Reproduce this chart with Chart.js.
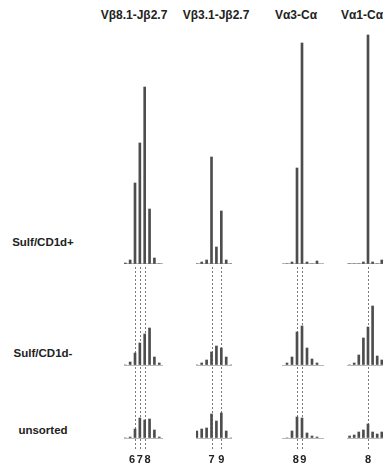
<!DOCTYPE html>
<html>
<head>
<meta charset="utf-8">
<script src="https://cdn.jsdelivr.net/npm/chart.js@4.4.1/dist/chart.umd.min.js"></script>
<style>
  body { margin: 0; background: #fff; }
  #fig { position: relative; width: 383px; height: 464px; overflow: hidden;
         font-family: "Liberation Sans", Arial, sans-serif; color: #222; }
  .lbl { position: absolute; font-weight: bold; white-space: nowrap; transform: translate(-50%, -50%); }
  .ttl { font-size: 12px; }
  .row { font-size: 11.5px; }
  canvas { position: absolute; top: 30px; }
</style>
</head>
<body>
<div id="fig"></div>
<script>
// column headers (primer pairs) and row names (sorted populations)
const columns = ["Vβ8.1-Jβ2.7", "Vβ3.1-Jβ2.7", "Vα3-Cα", "Vα1-Cα"];
const rows = ["Sulf/CD1d+", "Sulf/CD1d-", "unsorted"];

// CDR3 length (codons) and peak heights, one set per column
const col1Len = [4, 5, 6, 7, 8, 9, 10, 11];
const col1Pos = [1, 4, 81, 121, 177, 55, 6, 0];
const col1Neg = [0, 3, 12, 22, 31, 37, 8, 2];
const col1Uns = [0, 1, 9, 20, 18, 19, 8, 1];
const col1Marks = [6, 7, 8];

const col2Len = [4, 5, 6, 7, 8, 9, 10, 11];
const col2Pos = [0, 2, 4, 107, 17, 53, 4, 0];
const col2Neg = [0, 2, 5, 13, 19, 17, 8, 0];
const col2Uns = [7, 9, 10, 24, 17, 25, 7, 0];
const col2Marks = [7, 9];

const col3Len = [6, 7, 8, 9, 10, 11, 12];
const col3Pos = [0, 2, 96, 221, 2, 0, 3];
const col3Neg = [2, 8, 33, 39, 17, 6, 2];
const col3Uns = [0, 7, 21, 20, 5, 2, 1];
const col3Marks = [8, 9];

const col4Len = [4, 5, 6, 7, 8, 9, 10, 11];
const col4Pos = [0, 0, 0, 2, 229, 2, 0, 4];
const col4Neg = [0, 2, 10, 27, 38, 59, 9, 5];
const col4Uns = [2, 3, 6, 8, 14, 6, 4, 6];
const col4Marks = [8];

const panels = [
  { len: col1Len, rows: [col1Pos, col1Neg, col1Uns], marks: col1Marks },
  { len: col2Len, rows: [col2Pos, col2Neg, col2Uns], marks: col2Marks },
  { len: col3Len, rows: [col3Pos, col3Neg, col3Uns], marks: col3Marks },
  { len: col4Len, rows: [col4Pos, col4Neg, col4Uns], marks: col4Marks },
];

// placement of each column on the page
const frames = [
  { left: 124, width: 39, min: 3.732, max: 11.773, spread: 0.6, title: 134 },
  { left: 196, width: 36, min: 3.837, max: 11.18, spread: 0, title: 216 },
  { left: 282, width: 42, min: 5, max: 13.4, spread: 0.5, title: 296 },
  { left: 347, width: 40, min: 3.435, max: 12.13, spread: 0, title: 362 },
];
const rowPx = [234, 101, 73];
const rowLabelY = [242, 353, 430];
const FONT = '"Liberation Sans", Arial, sans-serif';

const fig = document.getElementById("fig");

function addLabel(text, cls, x, y) {
  const d = document.createElement("div");
  d.className = "lbl " + cls;
  d.textContent = text;
  d.style.left = x + "px";
  d.style.top = y + "px";
  fig.appendChild(d);
}

columns.forEach((t, i) => addLabel(t, "ttl", frames[i].title, 15));
rows.forEach((t, i) => addLabel(t, "row", 43, rowLabelY[i]));

// dashed guide lines below the top trace, behind the bars
const dashPlugin = {
  id: "dashes",
  beforeDatasetsDraw(chart, args, opts) {
    const { ctx, chartArea, scales } = chart;
    const top = scales.y0.getPixelForValue(0) + 3;
    const bottom = chartArea.bottom + 12;
    ctx.save();
    ctx.strokeStyle = "#7a7a7a";
    ctx.lineWidth = 1;
    ctx.setLineDash([2, 2]);
    opts.marks.forEach((m) => {
      const x = Math.round(scales.x.getPixelForValue(m)) + 0.5;
      ctx.beginPath();
      ctx.moveTo(x, top);
      ctx.lineTo(x, bottom);
      ctx.stroke();
    });
    ctx.restore();
  },
};

function noPad(ax) {
  ax.paddingLeft = 0;
  ax.paddingRight = 0;
  ax.paddingTop = 0;
  ax.paddingBottom = 0;
}

function rowAxis(k) {
  return {
    type: "linear",
    position: "right",
    stack: "rows",
    stackWeight: rowPx[k],
    min: 0,
    max: rowPx[k],
    ticks: { display: false },
    grid: {
      drawTicks: false,
      color: (c) => (c.tick && c.tick.value === 0 ? "#b8b8b8" : "rgba(0,0,0,0)"),
    },
    border: { display: false },
    afterFit: (ax) => { ax.width = 0; noPad(ax); },
  };
}

panels.forEach((p, c) => {
  const f = frames[c];
  const cv = document.createElement("canvas");
  cv.width = f.width;
  cv.height = 434;
  cv.style.left = f.left + "px";
  fig.appendChild(cv);

  const mid = p.marks.reduce((a, b) => a + b, 0) / p.marks.length;

  new Chart(cv.getContext("2d"), {
    type: "bar",
    data: {
      datasets: rows.map((r, k) => ({
        label: r,
        data: p.len.map((v, i) => ({ x: v, y: p.rows[k][i] })),
        yAxisID: "y" + k,
        backgroundColor: "#4d4d4d",
        barThickness: 2,
        grouped: false,
      })),
    },
    options: {
      responsive: false,
      animation: false,
      layout: { padding: 0 },
      plugins: {
        legend: { display: false },
        tooltip: { enabled: false },
        dashes: { marks: p.marks },
      },
      scales: {
        x: {
          type: "linear",
          offset: false,
          min: f.min,
          max: f.max,
          grid: { display: false, drawTicks: false },
          border: { display: false },
          afterBuildTicks: (ax) => {
            ax.ticks = p.marks.map((m) => ({ value: m + (m - mid) * f.spread }));
          },
          afterFit: (ax) => { ax.height = 26; noPad(ax); },
          ticks: {
            autoSkip: false,
            maxRotation: 0,
            padding: 15,
            color: "#222",
            font: { family: FONT, size: 11, weight: "bold" },
            callback: (v, i) => String(p.marks[i]),
          },
        },
        y0: rowAxis(0),
        y1: rowAxis(1),
        y2: rowAxis(2),
      },
    },
    plugins: [dashPlugin],
  });
});
</script>
</body>
</html>
